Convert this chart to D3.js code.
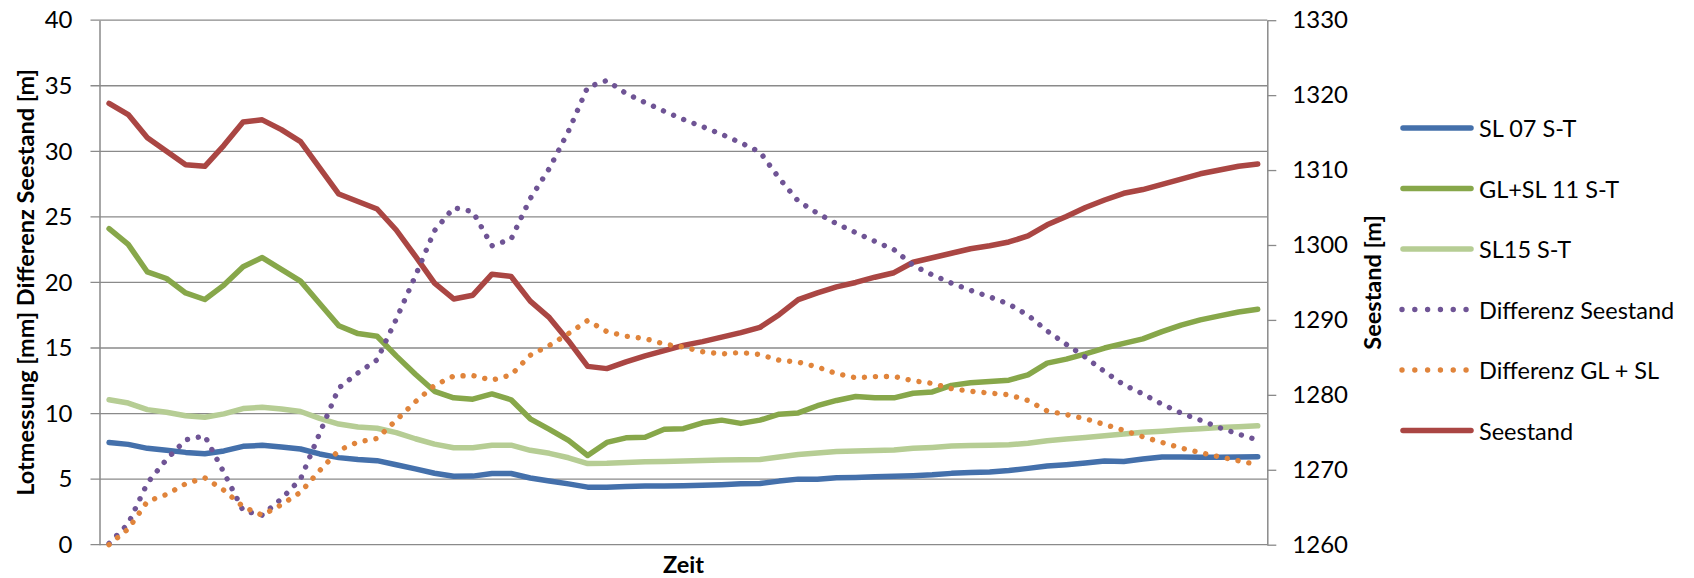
<!DOCTYPE html>
<html>
<head>
<meta charset="utf-8">
<script src="https://cdn.jsdelivr.net/npm/d3@7"></script>
<style>
body { margin: 0; background: #fff; }
text { font-family: Lato, "Open Sans", sans-serif; fill: #000; }
</style>
</head>
<body>
<div class="view"></div>
<script>
// Messzeitpunkte (keine Beschriftung auf der x-Achse)
var zeit = d3.range(1, 62);

var sl07 = [7.8, 7.65, 7.35, 7.21, 7.04, 6.94, 7.15, 7.5, 7.58, 7.45, 7.3, 6.92, 6.64, 6.5, 6.41, 6.1, 5.78, 5.45, 5.22, 5.23,
    5.43, 5.43, 5.09, 4.86, 4.64, 4.39, 4.39, 4.44, 4.47, 4.48, 4.5, 4.54, 4.58, 4.64, 4.66, 4.85, 5.0, 5.0, 5.1, 5.13,
    5.19, 5.22, 5.26, 5.33, 5.44, 5.5, 5.55, 5.66, 5.82, 6.0, 6.1, 6.23, 6.38, 6.35, 6.53, 6.68, 6.68, 6.66, 6.66, 6.68, 6.71];

var glsl11 = [24.1, 22.9, 20.8, 20.3, 19.2, 18.7, 19.8, 21.2, 21.9, 21.0, 20.1, 18.4, 16.7, 16.1, 15.9, 14.4, 13.0, 11.7, 11.2, 11.1,
    11.5, 11.05, 9.6, 8.8, 7.95, 6.8, 7.8, 8.15, 8.2, 8.8, 8.85, 9.3, 9.5, 9.25, 9.5, 9.95, 10.05, 10.6, 11.0, 11.3,
    11.2, 11.2, 11.55, 11.65, 12.15, 12.35, 12.45, 12.55, 12.95, 13.85, 14.15, 14.55, 15.0, 15.35, 15.7, 16.25, 16.75, 17.15, 17.45, 17.75, 17.95];

var sl15 = [11.05, 10.8, 10.3, 10.1, 9.84, 9.72, 9.98, 10.38, 10.48, 10.35, 10.16, 9.64, 9.2, 8.97, 8.88, 8.55, 8.08, 7.67, 7.39, 7.39,
    7.59, 7.59, 7.2, 6.97, 6.63, 6.19, 6.21, 6.27, 6.33, 6.35, 6.38, 6.42, 6.46, 6.47, 6.5, 6.69, 6.88, 7.0, 7.1, 7.14,
    7.18, 7.22, 7.35, 7.42, 7.52, 7.56, 7.58, 7.63, 7.73, 7.93, 8.06, 8.18, 8.31, 8.45, 8.58, 8.66, 8.77, 8.85, 8.93, 9.0, 9.07];

var diffSeestand = [0.1, 1.6, 4.7, 6.5, 8.0, 8.3, 5.5, 2.6, 2.25, 3.5, 5.0, 8.5, 11.95, 13.1, 14.1, 17.2, 20.5, 23.95, 25.7, 25.4,
    22.8, 23.3, 26.4, 28.7, 31.55, 34.9, 35.4, 34.42, 33.72, 33.06, 32.43, 31.88, 31.3, 30.65, 29.95, 27.95, 26.2, 25.28, 24.48, 23.8,
    23.14, 22.5, 21.3, 20.58, 19.95, 19.4, 18.9, 18.35, 17.5, 16.3, 15.28, 14.3, 13.2, 12.2, 11.5, 10.72, 10.04, 9.5, 8.93, 8.43, 7.98];

var diffGLSL = [0, 1.2, 3.3, 3.83, 4.65, 5.1, 4.15, 2.9, 2.25, 3.05, 4.0, 5.65, 7.2, 7.83, 8.1, 9.5, 10.9, 12.15, 12.86, 12.9,
    12.55, 12.95, 14.45, 15.2, 16.1, 17.1, 16.25, 15.9, 15.72, 15.3, 15.07, 14.72, 14.55, 14.66, 14.5, 14.07, 13.93, 13.55, 13.05, 12.73,
    12.82, 12.83, 12.5, 12.3, 11.9, 11.7, 11.56, 11.43, 11.0, 10.2, 9.92, 9.6, 9.17, 8.72, 8.23, 7.8, 7.37, 7.02, 6.7, 6.4, 6.1];

// Seestand auf der rechten Achse [m]
var seestand = [1318.9, 1317.4, 1314.3, 1312.5, 1310.7, 1310.5, 1313.3, 1316.4, 1316.7, 1315.4, 1313.8, 1310.3, 1306.8, 1305.8, 1304.8, 1302.0, 1298.5, 1294.9, 1292.8, 1293.3,
    1296.1, 1295.8, 1292.5, 1290.3, 1287.2, 1283.8, 1283.5, 1284.4, 1285.2, 1285.9, 1286.6, 1287.1, 1287.7, 1288.3, 1289.0, 1290.7, 1292.7, 1293.6, 1294.4, 1295.0,
    1295.7, 1296.3, 1297.7, 1298.3, 1298.9, 1299.5, 1299.9, 1300.4, 1301.2, 1302.7, 1303.8, 1305.0, 1306.0, 1306.9, 1307.4, 1308.1, 1308.8, 1309.5, 1310.0, 1310.5, 1310.8];

var leftTicks = [0, 5, 10, 15, 20, 25, 30, 35, 40];
var rightTicks = [1260, 1270, 1280, 1290, 1300, 1310, 1320, 1330];

var seriesNames = ["SL 07 S-T", "GL+SL 11 S-T", "SL15 S-T", "Differenz Seestand", "Differenz GL + SL", "Seestand"];
var seriesColors = ["#4470ab", "#87a74a", "#b6cd94", "#6f5495", "#e0843b", "#aa4643"];

var width = 1694;
var height = 578;

var margin = {
    top: 20.2,
    right: 426.7,
    bottom: 33.3,
    left: 99.5
};

var svg = d3.select(".view")
    .append("svg")
    .attr("width", width)
    .attr("height", height);

var x = d3.scalePoint()
    .domain(zeit)
    .range([margin.left, width - margin.right])
    .padding(0.5);

var y = d3.scaleLinear()
    .domain([0, 40])
    .range([height - margin.bottom, margin.top]);

var y2 = d3.scaleLinear()
    .domain([1260, 1330])
    .range([height - margin.bottom, margin.top]);

var gridColor = "#8a8a8a";

// gridlines incl. the short outer ticks on the left
svg.append("g")
    .selectAll("line")
    .data(leftTicks)
    .enter().append("line")
    .attr("x1", margin.left - 9)
    .attr("x2", width - margin.right)
    .attr("y1", function (d) { return y(d); })
    .attr("y2", function (d) { return y(d); })
    .attr("stroke", gridColor)
    .attr("stroke-width", 1.3);

var leftAxis = svg.append("g")
    .attr("transform", "translate(" + margin.left + ",0)")
    .call(d3.axisLeft(y).tickValues(leftTicks).tickSize(0).tickSizeOuter(0).tickPadding(27));

var rightAxis = svg.append("g")
    .attr("transform", "translate(" + (width - margin.right) + ",0)")
    .call(d3.axisRight(y2).tickValues(rightTicks).tickFormat(d3.format("d"))
        .tickSize(9).tickSizeOuter(0).tickPadding(16));

[leftAxis, rightAxis].forEach(function (g) {
    g.select(".domain").attr("stroke", gridColor).attr("stroke-width", 1.5);
    g.selectAll(".tick line").attr("stroke", gridColor).attr("stroke-width", 1.3);
    g.selectAll(".tick text")
        .attr("font-family", "Lato, 'Open Sans', sans-serif")
        .attr("font-size", 24)
        .attr("fill", "#000");
});

var line = d3.line()
    .x(function (d, i) { return x(zeit[i]); })
    .y(function (d) { return y(d); });

var line2 = d3.line()
    .x(function (d, i) { return x(zeit[i]); })
    .y(function (d) { return y2(d); });

function drawSolid(data, gen, color) {
    svg.append("path")
        .datum(data)
        .attr("fill", "none")
        .attr("stroke", color)
        .attr("stroke-width", 5.5)
        .attr("stroke-linejoin", "round")
        .attr("stroke-linecap", "round")
        .attr("d", gen);
}

function drawDotted(data, gen, color) {
    svg.append("path")
        .datum(data)
        .attr("fill", "none")
        .attr("stroke", color)
        .attr("stroke-width", 5.4)
        .attr("stroke-linecap", "round")
        .attr("stroke-dasharray", "0.01 11")
        .attr("d", gen);
}

drawSolid(seestand, line2, seriesColors[5]);
drawSolid(sl07, line, seriesColors[0]);
drawSolid(glsl11, line, seriesColors[1]);
drawSolid(sl15, line, seriesColors[2]);
drawDotted(diffSeestand, line, seriesColors[3]);
drawDotted(diffGLSL, line, seriesColors[4]);

// axis titles
svg.append("text")
    .attr("transform", "translate(25," + ((margin.top + height - margin.bottom) / 2) + ") rotate(-90)")
    .attr("text-anchor", "middle")
    .attr("dominant-baseline", "central")
    .attr("font-size", 23.5)
    .attr("font-weight", "bold")
    .text("Lotmessung [mm] Differenz Seestand [m]");

svg.append("text")
    .attr("transform", "translate(1372," + ((margin.top + height - margin.bottom) / 2) + ") rotate(-90)")
    .attr("text-anchor", "middle")
    .attr("dominant-baseline", "central")
    .attr("font-size", 23.5)
    .attr("font-weight", "bold")
    .text("Seestand [m]");

svg.append("text")
    .attr("x", (margin.left + width - margin.right) / 2)
    .attr("y", 573)
    .attr("text-anchor", "middle")
    .attr("font-size", 23.5)
    .attr("font-weight", "bold")
    .text("Zeit");

// legend
var legend = svg.append("g")
    .attr("class", "legend")
    .attr("transform", "translate(1401,128)");

var items = legend.selectAll("g")
    .data(seriesNames)
    .enter().append("g")
    .attr("transform", function (d, i) { return "translate(0," + (i * 60.5) + ")"; });

items.append("line")
    .attr("x1", function (d, i) { return (i == 3 || i == 4) ? 1 : 2; })
    .attr("x2", function (d, i) { return (i == 3 || i == 4) ? 66 : 70; })
    .attr("stroke", function (d, i) { return seriesColors[i]; })
    .attr("stroke-width", function (d, i) { return (i == 3 || i == 4) ? 5.4 : 5.5; })
    .attr("stroke-linecap", "round")
    .attr("stroke-dasharray", function (d, i) { return (i == 3 || i == 4) ? "0.01 12.8" : null; });

items.append("text")
    .attr("x", 78)
    .attr("dominant-baseline", "central")
    .attr("font-size", 23.5)
    .text(function (d) { return d; });
</script>
</body>
</html>
